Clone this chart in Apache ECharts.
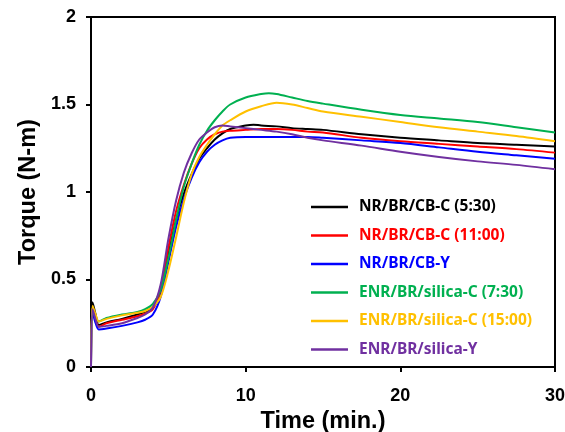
<!DOCTYPE html>
<html>
<head>
<meta charset="utf-8">
<script src="https://cdn.jsdelivr.net/npm/echarts@6/dist/echarts.min.js"></script>
<style>html,body{margin:0;padding:0;background:#fff}#c{width:565px;height:432px}</style>
</head>
<body>
<div id="c"></div>
<script>
const seriesNames = ["NR/BR/CB-C (5:30)", "NR/BR/CB-C (11:00)", "NR/BR/CB-Y", "ENR/BR/silica-C (7:30)", "ENR/BR/silica-C (15:00)", "ENR/BR/silica-Y"];
const seriesColors = ["#000000", "#FF0000", "#0000FF", "#00B050", "#FFC000", "#7030A0"];
const xTicks = [0, 10, 20, 30];
const yTicks = [0, 0.5, 1, 1.5, 2];

const blackData = [[0,0],[0.1,0.37],[0.3,0.30],[0.5,0.24],[1,0.255],[2,0.275],[3,0.30],[3.5,0.315],[4,0.34],[4.5,0.42],[5,0.64],[5.5,0.84],[6,0.99],[6.5,1.10],[7,1.19],[7.5,1.25],[8,1.30],[8.5,1.335],[9,1.36],[10,1.38],[10.5,1.385],[11,1.38],[12,1.375],[13,1.365],[14,1.36],[15,1.355],[17.5,1.33],[20,1.31],[22.5,1.295],[25,1.28],[27.5,1.27],[30,1.26]];
const redData = [[0,0],[0.1,0.34],[0.3,0.28],[0.5,0.23],[1,0.25],[2,0.27],[3,0.29],[3.5,0.305],[4,0.33],[4.5,0.44],[5,0.68],[5.5,0.89],[6,1.04],[6.5,1.16],[7,1.25],[7.5,1.30],[8,1.33],[8.5,1.345],[9,1.35],[10,1.355],[11,1.36],[12,1.36],[13,1.355],[14,1.345],[15,1.34],[17.5,1.31],[20,1.29],[22.5,1.275],[25,1.26],[27.5,1.245],[30,1.225]];
const blueData = [[0,0],[0.1,0.31],[0.3,0.25],[0.5,0.215],[1,0.22],[2,0.235],[3,0.255],[3.5,0.27],[4,0.30],[4.5,0.40],[5,0.60],[5.5,0.80],[6,0.96],[6.5,1.08],[7,1.17],[7.5,1.23],[8,1.27],[8.5,1.295],[9,1.31],[10,1.315],[11,1.315],[12,1.315],[13,1.315],[14,1.315],[15,1.31],[17.5,1.295],[20,1.28],[22.5,1.255],[25,1.23],[27.5,1.21],[30,1.19]];
const greenData = [[0,0],[0.1,0.34],[0.3,0.29],[0.5,0.26],[1,0.28],[2,0.30],[3,0.315],[3.5,0.33],[4,0.36],[4.5,0.44],[5,0.62],[5.5,0.84],[6,1.03],[6.5,1.16],[7,1.27],[7.5,1.35],[8,1.41],[8.5,1.46],[9,1.50],[10,1.54],[11,1.56],[11.5,1.565],[12,1.56],[13,1.54],[14,1.52],[15,1.505],[17.5,1.47],[20,1.44],[22.5,1.42],[25,1.40],[27.5,1.37],[30,1.34]];
const yellowData = [[0,0],[0.1,0.35],[0.3,0.30],[0.5,0.26],[1,0.275],[2,0.295],[3,0.31],[3.5,0.32],[4,0.345],[4.5,0.40],[5,0.55],[5.5,0.74],[6,0.94],[6.5,1.10],[7,1.20],[7.5,1.27],[8,1.33],[8.5,1.38],[9,1.41],[10,1.46],[11,1.49],[12,1.51],[13,1.50],[14,1.48],[15,1.46],[17.5,1.43],[20,1.40],[22.5,1.37],[25,1.345],[27.5,1.32],[30,1.29]];
const purpleData = [[0,0],[0.1,0.33],[0.3,0.27],[0.5,0.23],[1,0.235],[2,0.25],[3,0.28],[3.5,0.30],[4,0.34],[4.5,0.47],[5,0.73],[5.5,0.95],[6,1.11],[6.5,1.22],[7,1.30],[7.5,1.34],[8,1.37],[8.5,1.38],[9,1.375],[10,1.365],[11,1.355],[12,1.345],[13,1.33],[14,1.31],[15,1.295],[17.5,1.265],[20,1.23],[22.5,1.20],[25,1.175],[27.5,1.155],[30,1.13]];

const allData = [blackData, redData, blueData, greenData, yellowData, purpleData];

const chart = echarts.init(document.getElementById('c'), null, {renderer: 'canvas'});
const labelFont = {fontFamily: 'Liberation Sans, Arial, sans-serif', fontWeight: 'bold', fontSize: 18, color: '#000'};
const titleFont = {fontFamily: 'Liberation Sans, Arial, sans-serif', fontWeight: 'bold', fontSize: 23.5, color: '#000'};
chart.setOption({
  animation: false,
  backgroundColor: '#fff',
  grid: {left: 91, right: 10, top: 17, bottom: 65, show: true, borderColor: '#000', borderWidth: 2, containLabel: false, outerBoundsMode: 'none'},
  xAxis: {
    type: 'value', min: xTicks[0], max: xTicks[xTicks.length-1], interval: 10,
    name: 'Time (min.)', nameLocation: 'middle', nameGap: 43,
    nameTextStyle: titleFont,
    axisLine: {show: true, lineStyle: {color: '#000', width: 2}},
    axisTick: {show: true, inside: false, length: 5, lineStyle: {color: '#000', width: 2}},
    axisLabel: Object.assign({margin: 20}, labelFont),
    splitLine: {show: false}
  },
  yAxis: {
    type: 'value', min: yTicks[0], max: yTicks[yTicks.length-1], interval: 0.5,
    name: 'Torque (N-m)', nameLocation: 'middle', nameGap: 48,
    nameTextStyle: titleFont,
    axisLine: {show: true, lineStyle: {color: '#000', width: 2}},
    axisTick: {show: true, inside: false, length: 5, lineStyle: {color: '#000', width: 2}},
    axisLabel: Object.assign({margin: 15}, labelFont),
    splitLine: {show: false}
  },
  legend: {
    orient: 'vertical', left: 306, top: 194,
    icon: 'rect', itemWidth: 37, itemHeight: 2.5, itemGap: 12.5,
    textStyle: {fontFamily: 'Noto Sans, sans-serif', fontWeight: 'bold', fontSize: 15.5, lineHeight: 16, padding: [0,0,0,6]},
    data: seriesNames.map((n, i) => ({name: n, textStyle: {color: seriesColors[i]}}))
  },
  series: seriesNames.map((n, i) => ({
    name: n, type: 'line', data: allData[i], symbol: 'none', smooth: 0.3,
    lineStyle: {color: seriesColors[i], width: 2}, itemStyle: {color: seriesColors[i]}
  }))
});
</script>
</body>
</html>
